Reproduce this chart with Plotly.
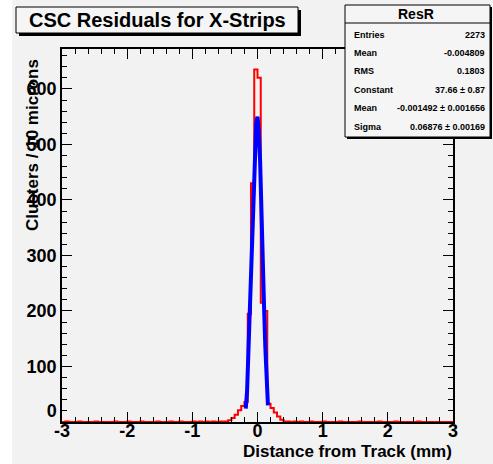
import plotly.graph_objects as go

# ---------------- data ----------------
bin_width = 0.05
x_start = -3.0
# red histogram counts, 120 bins of 0.05 mm from -3 to 3
left_tail = [0, 1, 0, 0, 0, 1, 0, 0, 0, 0,
             1, 0, 0, 0, 0, 0, 1, 0, 0, 0,
             1, 0, 0, 0, 1, 0, 0, 0, 0, 1,
             0, 0, 0, 1, 0, 0, 1, 0, 0, 0,
             1, 0, 1, 0, 1, 0, 1, 0, 1, 1, 1]          # -3.00 .. -0.45
core = [3, 7, 13, 21, 29, 36, 195, 430, 635, 620,
        215, 200, 33, 25, 17, 10, 4]                    # -0.45 .. 0.40
right_tail = [1, 1, 0, 1, 0, 1, 0, 0, 1, 0,
              0, 0, 1, 0, 0, 0, 0, 1, 0, 0,
              0, 0, 0, 1, 0, 0, 0, 0, 0, 1,
              0, 0, 0, 0, 1, 0, 0, 0, 0, 0,
              0, 1, 0, 0, 0, 0, 0, 0, 0, 0, 0, 0]    # 0.40 .. 3.00
red_counts = left_tail + core + right_tail

# blue fitted curve
blue_x = [-0.18, -0.16, -0.14, -0.12, -0.10, -0.08, -0.06, -0.04, -0.02,
          0.00, 0.02, 0.04, 0.06, 0.08, 0.10, 0.12, 0.14, 0.16]
blue_y = [24, 55, 125, 190, 270, 360, 430, 495, 538,
          550, 525, 470, 400, 300, 210, 135, 75, 30]

x_ticks = [-3, -2, -1, 0, 1, 2, 3]
y_ticks = [0, 100, 200, 300, 400, 500, 600]

title_text = "CSC Residuals for X-Strips"
x_title = "Distance from Track (mm)"
y_title = "Clusters / 10 microns"
stats_name = "ResR"
stats_labels = ["Entries", "Mean", "RMS", "Constant", "Mean", "Sigma"]
stats_values = ["2273", "-0.004809", "0.1803", "37.66 ± 0.87",
                "-0.001492 ± 0.001656", "0.06876 ± 0.00169"]

# ---------------- figure ----------------
edges = [round(x_start + i * bin_width, 4) for i in range(len(red_counts) + 1)]
red_y = red_counts + [red_counts[-1]]

W, H = 493, 464
L, R, T, B = 62, 40, 49, 42
pw, ph = W - L - R, H - T - B


def px(x):
    return (x - L) / pw


def py(y):
    return (H - B - y) / ph


BG = "#f2f2f2"
FONT = "Liberation Sans"

fig = go.Figure()
fig.add_trace(go.Scatter(x=edges, y=red_y, mode="lines", line_shape="hv",
                         line=dict(color="#ff0000", width=2), showlegend=False))
fig.add_trace(go.Scatter(x=blue_x, y=blue_y, mode="lines",
                         line=dict(color="#0000ff", width=4), showlegend=False))

axis_common = dict(showgrid=False, zeroline=False, showline=True, linecolor="black",
                   linewidth=1.5, mirror="ticks", ticks="inside", ticklen=10,
                   tickcolor="black", tickwidth=1,
                   tickfont=dict(family=FONT, size=18, color="black", weight="bold"))

# the "0" label on the y axis sits a little higher (ROOT style), done with a blank second line
y_ticktext = [("0<br> " if v == 0 else str(v)) for v in y_ticks]

fig.update_xaxes(range=[-3, 3], tickvals=x_ticks, ticktext=[str(v) for v in x_ticks],
                 minor=dict(ticks="inside", ticklen=5, dtick=0.2, tickcolor="black"),
                 ticklabelstandoff=-8, **axis_common)
fig.update_yaxes(range=[0, 672], tickvals=y_ticks, ticktext=y_ticktext,
                 minor=dict(ticks="inside", ticklen=5, dtick=20, tickcolor="black"),
                 **axis_common)

shapes = []
# white strip on far left
shapes.append(dict(type="rect", xref="paper", yref="paper", x0=px(0), x1=px(12),
                   y0=py(H), y1=py(0), fillcolor="white", line=dict(width=0), layer="below"))
# title box with shadow
shapes.append(dict(type="rect", xref="paper", yref="paper", x0=px(19), x1=px(301),
                   y0=py(36), y1=py(10), fillcolor="black", line=dict(width=0)))
shapes.append(dict(type="rect", xref="paper", yref="paper", x0=px(16), x1=px(298),
                   y0=py(33), y1=py(7), fillcolor="#f5f5f5", line=dict(color="black", width=1)))
# stats box with shadow
shapes.append(dict(type="rect", xref="paper", yref="paper", x0=px(347), x1=px(492),
                   y0=py(139), y1=py(7), fillcolor="black", line=dict(width=0)))
shapes.append(dict(type="rect", xref="paper", yref="paper", x0=px(345), x1=px(490),
                   y0=py(137), y1=py(5), fillcolor="#f5f5f5", line=dict(color="black", width=1)))
shapes.append(dict(type="line", xref="paper", yref="paper", x0=px(345), x1=px(490),
                   y0=py(23), y1=py(23), line=dict(color="black", width=1)))

annotations = []
annotations.append(dict(text=title_text, xref="paper", yref="paper", x=px(157), y=py(20),
                        xanchor="center", yanchor="middle", showarrow=False,
                        font=dict(family=FONT, size=20, color="black", weight="bold")))
annotations.append(dict(text=stats_name, xref="paper", yref="paper", x=px(416), y=py(14),
                        xanchor="center", yanchor="middle", showarrow=False,
                        font=dict(family=FONT, size=14, color="black", weight="bold")))
row_y = [35, 53, 71, 90, 108, 127]
for lab, val, yy in zip(stats_labels, stats_values, row_y):
    annotations.append(dict(text=lab, xref="paper", yref="paper", x=px(352), y=py(yy),
                            xanchor="left", yanchor="middle", showarrow=False,
                            font=dict(family=FONT, size=9, color="black", weight="bold")))
    annotations.append(dict(text=val, xref="paper", yref="paper", x=px(487), y=py(yy),
                            xanchor="right", yanchor="middle", showarrow=False,
                            font=dict(family=FONT, size=9, color="black", weight="bold")))
annotations.append(dict(text=x_title, xref="paper", yref="paper", x=px(454), y=py(451),
                        xanchor="right", yanchor="middle", showarrow=False,
                        font=dict(family=FONT, size=17, color="black", weight="bold")))
annotations.append(dict(text=y_title, xref="paper", yref="paper", x=px(32), y=py(145),
                        xanchor="center", yanchor="middle", showarrow=False, textangle=-90,
                        font=dict(family=FONT, size=17, color="black", weight="bold")))

fig.update_layout(width=W, height=H, margin=dict(l=L, r=R, t=T, b=B),
                  paper_bgcolor=BG, plot_bgcolor=BG, shapes=shapes,
                  annotations=annotations, showlegend=False)

fig.write_html("out.html")
